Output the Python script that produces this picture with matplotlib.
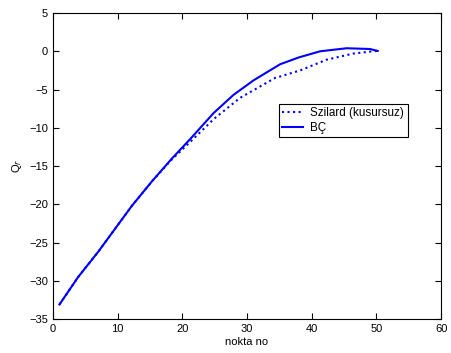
import matplotlib
matplotlib.use("Agg")
import matplotlib.pyplot as plt

plt.rcParams['font.family'] = ['Liberation Sans', 'DejaVu Sans']

# values
bc_x = [1, 3.9, 7.0, 9.6, 12.2, 15.3, 18.3, 21.4, 24.8, 27.9, 31, 35.1, 38, 41.3, 45.4, 49, 50.2]
bc_y = [-33.1, -29.5, -26.2, -23.2, -20.2, -17.0, -14.1, -11.3, -8.1, -5.7, -3.8, -1.7, -0.8, 0.0, 0.4, 0.3, 0.05]

sz_x = [1, 3.9, 7.0, 9.6, 12.2, 15.3, 18.3, 21.4, 24.8, 28.9, 34.3, 38.2, 42.3, 46.4, 50.5]
sz_y = [-33.1, -29.5, -26.2, -23.2, -20.2, -17.0, -14.2, -11.7, -8.9, -6.1, -3.5, -2.5, -1.1, -0.3, 0.1]

fig = plt.figure(figsize=(4.51, 3.53), dpi=100)
ax = fig.add_axes([0.1175, 0.0963, 0.8605, 0.8667])

ax.plot(sz_x, sz_y, color='blue', linestyle=':', linewidth=1.5, label='Szilard (kusursuz)')
ax.plot(bc_x, bc_y, color='blue', linestyle='-', linewidth=1.5, label='BÇ')

ax.set_xlim(0, 60)
ax.set_ylim(-35, 5)
ax.set_xticks(range(0, 61, 10))
ax.set_yticks(range(-35, 6, 5))
ax.tick_params(direction='in', top=True, right=True, labelsize=8, length=4)
ax.set_xlabel('nokta no', fontsize=8, labelpad=2)
ax.set_ylabel('Q$_r$', fontsize=8)

leg = ax.legend(loc='upper left', bbox_to_anchor=(0.582, 0.703), fontsize=8.4,
                fancybox=False, edgecolor='black', framealpha=1,
                handlelength=1.8, handletextpad=0.6, borderpad=0.3,
                labelspacing=0.2, borderaxespad=0)
leg.get_frame().set_linewidth(0.8)

fig.savefig('out.png', dpi=100)
